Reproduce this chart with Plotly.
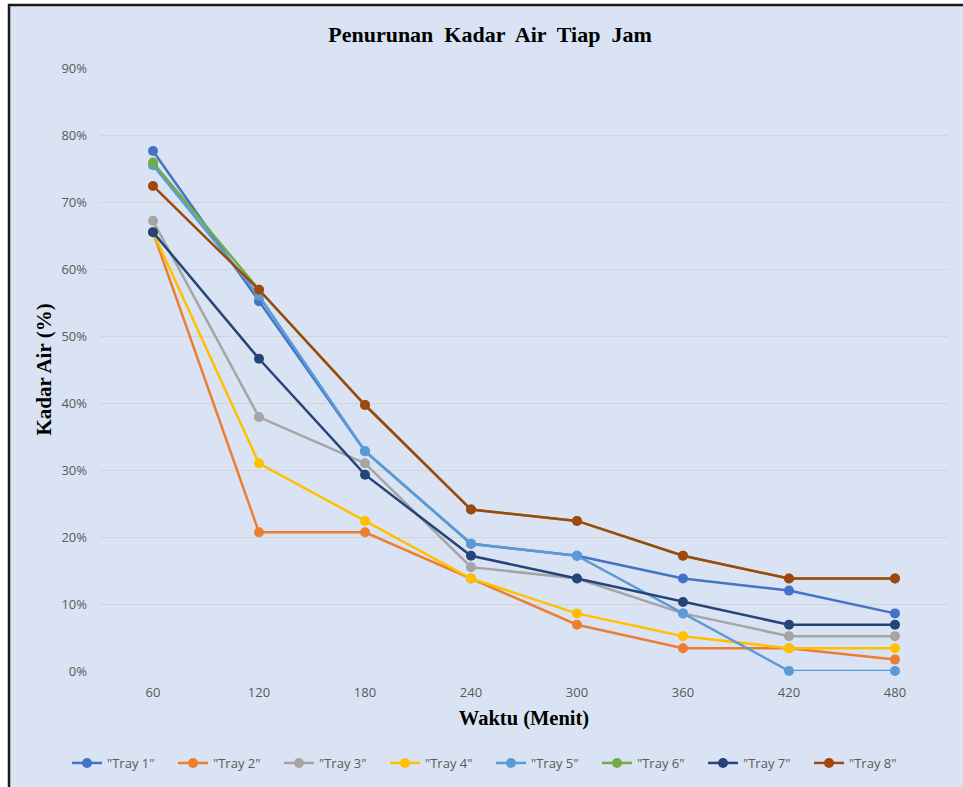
import plotly.graph_objects as go

waktu = ["60", "120", "180", "240", "300", "360", "420", "480"]
tray_names = ['"Tray 1"', '"Tray 2"', '"Tray 3"', '"Tray 4"', '"Tray 5"', '"Tray 6"', '"Tray 7"', '"Tray 8"']
tray1 = [0.776, 0.552, 0.328, 0.190, 0.172, 0.138, 0.120, 0.086]
tray2 = [0.655, 0.207, 0.207, 0.138, 0.069, 0.034, 0.034, 0.017]
tray3 = [0.672, 0.379, 0.310, 0.155, 0.138, 0.086, 0.052, 0.052]
tray4 = [0.655, 0.310, 0.224, 0.138, 0.086, 0.052, 0.034, 0.034]
tray5 = [0.755, 0.560, 0.328, 0.190, 0.172, 0.086, 0.000, 0.000]
tray6 = [0.759, 0.569, 0.397, 0.241, 0.224, 0.172, 0.138, 0.138]
tray7 = [0.655, 0.466, 0.293, 0.172, 0.138, 0.103, 0.069, 0.069]
tray8 = [0.724, 0.569, 0.397, 0.241, 0.224, 0.172, 0.138, 0.138]
colors = ["#4472C4", "#ED7D31", "#A5A5A5", "#FFC000", "#5B9BD5", "#70AD47", "#264478", "#9E480E"]

series = [tray1, tray2, tray3, tray4, tray5, tray6, tray7, tray8]

fig = go.Figure()
for name, vals, col in zip(tray_names, series, colors):
    fig.add_trace(go.Scatter(
        x=waktu, y=vals, name=name, mode="lines+markers",
        line=dict(color=col, width=2.5),
        marker=dict(color=col, size=10),
        cliponaxis=False,
    ))

W, H = 963, 787
L, R, T, B = 100, 15, 68, 116
pw, ph = W - L - R, H - T - B
bg = "#DAE3F3"

def px_x(x):
    return (x - L) / pw

def px_y(y):
    return (H - B - y) / ph

fig.add_shape(type="rect", xref="paper", yref="paper",
              x0=px_x(9), x1=px_x(990), y0=px_y(820), y1=px_y(5),
              fillcolor=bg, line=dict(color="#1a1a1a", width=2.5), layer="below")

fig.update_layout(
    width=W, height=H,
    margin=dict(l=L, r=R, t=T, b=B, autoexpand=False),
    paper_bgcolor="white",
    plot_bgcolor=bg,
    title=dict(text="<b>Penurunan  Kadar  Air  Tiap  Jam</b>", xref="container", x=490 / W,
               xanchor="center", y=1 - 34 / H, yanchor="middle",
               font=dict(family="Liberation Serif", size=22, color="black")),
    xaxis=dict(type="category", range=[-0.5, 7.5], showgrid=False, showline=False, ticks="",
               ticklabelstandoff=12,
               tickfont=dict(family="Open Sans", size=13, color="#595959"),
               title=dict(text="<b>Waktu (Menit)</b>", standoff=10,
                          font=dict(family="Liberation Serif", size=20.5, color="black"))),
    yaxis=dict(range=[0, 0.9], dtick=0.1, tickformat=".0%", showgrid=True, gridcolor="#D4D4D4",
               gridwidth=1, zeroline=False, showline=False, ticks="", ticklabelstandoff=12,
               tickfont=dict(family="Open Sans", size=13, color="#595959"),
               title=dict(text="<b>Kadar Air (%)</b>", standoff=4,
                          font=dict(family="Liberation Serif", size=21, color="black"))),
    legend=dict(orientation="h", x=px_x(491), xanchor="center", y=px_y(763), yanchor="middle",
                font=dict(family="Open Sans", size=13, color="#595959"),
                bgcolor="rgba(0,0,0,0)", itemwidth=30, tracegroupgap=0,
                entrywidth=61, entrywidthmode="pixels"),
    showlegend=True,
)

fig.write_html("out.html")
